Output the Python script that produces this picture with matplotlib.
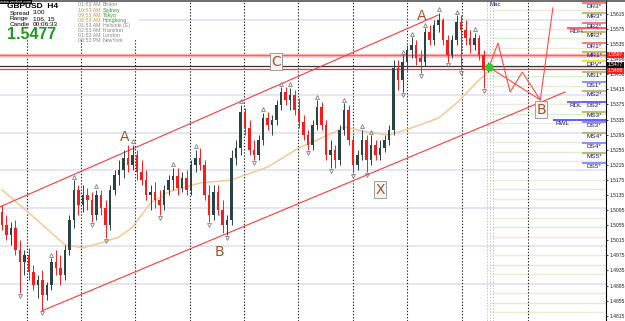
import numpy as np
import matplotlib.pyplot as plt
from matplotlib.patches import Rectangle

plt.rcParams['font.family'] = ['Liberation Sans', 'DejaVu Sans']

# GBPUSD H4 candles (bar index = position)
opens = [1.5090, 1.5056, 1.5029, 1.5048, 1.4990, 1.4958, 1.4976, 1.4931, 1.4897, 1.4910,
         1.4870, 1.4897, 1.4958, 1.4942, 1.4923, 1.4990, 1.5069, 1.5149, 1.5109, 1.5135,
         1.5122, 1.5082, 1.5135, 1.5101, 1.5056, 1.5149, 1.5188, 1.5202, 1.5233, 1.5215,
         1.5241, 1.5196, 1.5175, 1.5135, 1.5143, 1.5122, 1.5109, 1.5149, 1.5175, 1.5186,
         1.5154, 1.5180, 1.5149, 1.5215, 1.5233, 1.5215, 1.5135, 1.5082, 1.5143, 1.5096,
         1.5056, 1.5069, 1.5233, 1.5260, 1.5355, 1.5313, 1.5255, 1.5241, 1.5281, 1.5339,
         1.5321, 1.5334, 1.5374, 1.5408, 1.5387, 1.5400, 1.5361, 1.5329, 1.5294, 1.5268,
         1.5321, 1.5368, 1.5321, 1.5241, 1.5255, 1.5228, 1.5308, 1.5361, 1.5281, 1.5215,
         1.5241, 1.5281, 1.5228, 1.5268, 1.5241, 1.5260, 1.5281, 1.5308, 1.5472, 1.5440,
         1.5488, 1.5520, 1.5533, 1.5498, 1.5488, 1.5567, 1.5546, 1.5586, 1.5599, 1.5546,
         1.5506, 1.5546, 1.5594, 1.5573, 1.5551, 1.5533, 1.5551, 1.5506, 1.5467]
highs = [1.5109, 1.5082, 1.5064, 1.5069, 1.5016, 1.4990, 1.4995, 1.4950, 1.4923, 1.4937,
         1.4905, 1.4968, 1.4990, 1.4976, 1.5003, 1.5082, 1.5175, 1.5162, 1.5162, 1.5154,
         1.5143, 1.5149, 1.5149, 1.5122, 1.5162, 1.5202, 1.5228, 1.5255, 1.5268, 1.5268,
         1.5255, 1.5228, 1.5202, 1.5162, 1.5170, 1.5149, 1.5162, 1.5188, 1.5207, 1.5207,
         1.5196, 1.5202, 1.5228, 1.5255, 1.5260, 1.5228, 1.5162, 1.5162, 1.5162, 1.5122,
         1.5082, 1.5255, 1.5281, 1.5374, 1.5366, 1.5334, 1.5281, 1.5294, 1.5353, 1.5355,
         1.5347, 1.5387, 1.5421, 1.5421, 1.5419, 1.5414, 1.5392, 1.5347, 1.5308, 1.5334,
         1.5387, 1.5382, 1.5334, 1.5281, 1.5268, 1.5321, 1.5379, 1.5374, 1.5294, 1.5255,
         1.5308, 1.5294, 1.5294, 1.5281, 1.5281, 1.5294, 1.5321, 1.5493, 1.5493, 1.5506,
         1.5533, 1.5554, 1.5546, 1.5520, 1.5578, 1.5586, 1.5599, 1.5618, 1.5604, 1.5559,
         1.5559, 1.5612, 1.5612, 1.5599, 1.5573, 1.5565, 1.5559, 1.5520, 1.5488]
lows = [1.5043, 1.5016, 1.5003, 1.4976, 1.4876, 1.4923, 1.4910, 1.4884, 1.4862, 1.4831,
        1.4857, 1.4884, 1.4923, 1.4897, 1.4910, 1.4976, 1.5048, 1.5082, 1.5090, 1.5096,
        1.5064, 1.5069, 1.5082, 1.5021, 1.5043, 1.5135, 1.5162, 1.5180, 1.5196, 1.5202,
        1.5175, 1.5162, 1.5122, 1.5096, 1.5101, 1.5082, 1.5096, 1.5135, 1.5149, 1.5135,
        1.5143, 1.5135, 1.5135, 1.5196, 1.5202, 1.5122, 1.5064, 1.5069, 1.5082, 1.5035,
        1.5029, 1.5056, 1.5215, 1.5241, 1.5294, 1.5241, 1.5228, 1.5228, 1.5268, 1.5308,
        1.5294, 1.5321, 1.5361, 1.5374, 1.5361, 1.5347, 1.5313, 1.5281, 1.5255, 1.5255,
        1.5308, 1.5308, 1.5228, 1.5207, 1.5207, 1.5215, 1.5294, 1.5268, 1.5194, 1.5202,
        1.5228, 1.5196, 1.5215, 1.5228, 1.5228, 1.5249, 1.5268, 1.5294, 1.5414, 1.5408,
        1.5467, 1.5498, 1.5480, 1.5459, 1.5477, 1.5533, 1.5533, 1.5567, 1.5533, 1.5488,
        1.5498, 1.5533, 1.5467, 1.5533, 1.5512, 1.5520, 1.5493, 1.5419, 1.5461]
closes = [1.5056, 1.5029, 1.5048, 1.4990, 1.4958, 1.4976, 1.4931, 1.4897, 1.4910, 1.4870,
          1.4897, 1.4958, 1.4942, 1.4923, 1.4990, 1.5069, 1.5149, 1.5109, 1.5135, 1.5122,
          1.5082, 1.5135, 1.5101, 1.5056, 1.5149, 1.5188, 1.5202, 1.5233, 1.5215, 1.5241,
          1.5196, 1.5175, 1.5135, 1.5143, 1.5122, 1.5109, 1.5149, 1.5175, 1.5186, 1.5154,
          1.5180, 1.5149, 1.5215, 1.5233, 1.5215, 1.5135, 1.5082, 1.5143, 1.5096, 1.5056,
          1.5069, 1.5233, 1.5260, 1.5355, 1.5313, 1.5255, 1.5241, 1.5281, 1.5339, 1.5321,
          1.5334, 1.5374, 1.5408, 1.5387, 1.5400, 1.5361, 1.5329, 1.5294, 1.5268, 1.5321,
          1.5368, 1.5321, 1.5241, 1.5255, 1.5228, 1.5308, 1.5361, 1.5281, 1.5215, 1.5241,
          1.5281, 1.5228, 1.5268, 1.5241, 1.5260, 1.5281, 1.5308, 1.5472, 1.5440, 1.5488,
          1.5520, 1.5533, 1.5498, 1.5488, 1.5567, 1.5546, 1.5586, 1.5599, 1.5546, 1.5506,
          1.5546, 1.5594, 1.5573, 1.5551, 1.5533, 1.5551, 1.5506, 1.5467, 1.5477]

fractal_up = [11, 16, 21, 29, 38, 43, 53, 58, 62, 64, 70, 76, 80, 82, 89, 91, 94, 97, 101, 105]
fractal_down = [4, 9, 20, 23, 35, 46, 50, 56, 68, 73, 78, 81, 89, 93, 99, 102, 107]

# moving average (read at a few bars)
ma_bars = [0, 7, 14, 18, 22, 26, 29, 33, 37, 44, 51, 59, 66, 74, 76, 81, 86, 91, 97, 101, 106, 108]
ma_values = [1.5149, 1.5077, 1.5003, 1.4995, 1.5008, 1.5024, 1.5050, 1.5114, 1.5143, 1.5167,
             1.5175, 1.5209, 1.5260, 1.5302, 1.5316, 1.5302, 1.5294, 1.5313, 1.5339, 1.5379,
             1.5440, 1.5461]

# drawn channel and projection
upper_channel_bars = [-0.4, 96.9]
upper_channel_prices = [1.5104, 1.5612]
lower_channel_bars = [8.9, 125.1]
lower_channel_prices = [1.4828, 1.5408]
zigzag_bars = [108.2, 110.2, 112.9, 115.6, 119.6, 122.4]
zigzag_prices = [1.5474, 1.5538, 1.5408, 1.5461, 1.5387, 1.5631]

wave_labels = ['A', 'B', 'C', 'A', 'X', 'B']
wave_bars = [27.3, 48.4, 60.9, 93.3, 84.0, 119.8]
wave_prices = [1.5289, 1.4984, 1.5488, 1.5610, 1.5149, 1.5361]
wave_boxed = [False, False, True, False, True, True]

pivot_names = ['DR3*', 'MR3*', 'DR2*', 'MR2*', 'DR1*', 'MR1*', 'DPV*', 'MS1*', 'DS1*', 'MS2*',
               'DS2*', 'MS3*', 'DS3*', 'MS4*', 'DS4*', 'MS5*', 'DS5*']
pivot_levels = [1.5644, 1.5618, 1.5591, 1.5567, 1.5538, 1.5514, 1.5490, 1.5461, 1.5435, 1.5411,
                1.5382, 1.5355, 1.5329, 1.5300, 1.5273, 1.5247, 1.5220]
range_names = ['RDH', 'RDL', 'RWL']
range_levels = [1.5578, 1.5382, 1.5334]

price_ticks = [1.5615, 1.5575, 1.5535, 1.5496, 1.5456, 1.5415, 1.5375, 1.5335, 1.5295, 1.5255,
               1.5215, 1.5175, 1.5135, 1.5095, 1.5055, 1.5015, 1.4975, 1.4935, 1.4895, 1.4855, 1.4815]
separators = [5.6, 17.6, 29.6, 41.8, 53.8, 65.8, 78.0, 90.0, 102.2, 116.9]

level_1507 = 1.5507
bid = 1.5477
level_1469 = 1.5469

sessions = [('01:53 AM', 'Broker'), ('10:53 AM', 'Sydney'), ('09:53 AM', 'Tokyo'),
            ('08:53 AM', 'Hongkong'), ('01:53 AM', 'Helsinki (E)'), ('02:53 AM', 'Frankfurt'),
            ('01:53 AM', 'London'), ('08:53 PM', 'NewYork')]
open_sessions = ['Sydney', 'Tokyo', 'Hongkong']

W, H = 625, 321
fig = plt.figure(figsize=(W / 100, H / 100), dpi=100)
ax = fig.add_axes([0, 0, 606 / W, 1])
ax.set_xlim(-0.44, 134.2)
ax.set_ylim(1.4801, 1.5652)

o = np.array(opens); h = np.array(highs); l = np.array(lows); c = np.array(closes)
idx = np.arange(len(c))
up = c >= o
bull, bear = '#2a4444', '#ff1a1a'
cols = np.where(up, bull, bear)

# grid-ish levels
for lev in np.arange(1.49, 1.565, 0.01):
    ax.axhline(lev, color='#e0e0f4', lw=1.2, zorder=0)
for lev in np.arange(1.4825, 1.565, 0.005):
    ax.hlines(lev, 108.7, 134.2, color='#f1e8d8', lw=1, zorder=0)
for lev in np.arange(1.485, 1.565, 0.01):
    ax.hlines(lev, 108.7, 134.2, color='#d8f2d0', lw=1, zorder=0)

for s in separators:
    ax.axvline(s, color='#222222', lw=0.8, ls=(0, (1.2, 1.6)), zorder=1)
for s in [107.8, 108.4, 109.0]:
    ax.axvline(s, color='#c8c8c8', lw=0.7, ls=(0, (1.5, 1.5)), zorder=1)

# horizontal levels across the chart
ax.axhline(level_1507, color='#ffb0b0', lw=2.5, zorder=1)
ax.axhline(level_1507, color='#ff5050', lw=0.6, zorder=1)
ax.axhline(bid, color='#333333', lw=0.9, zorder=1)
ax.axhline(level_1469, color='#ff3030', lw=0.9, zorder=1)

# MA
ax.plot(ma_bars, ma_values, color='#f7c98f', lw=1.1, zorder=2)

# candles
ax.vlines(idx, l, h, colors=cols, lw=0.7, zorder=3)
ax.bar(idx, np.maximum(np.abs(c - o), 0.00015), bottom=np.minimum(o, c), width=0.62,
       color=cols, zorder=3)

# fractals
ax.plot(fractal_up, h[fractal_up] + 0.0009, ls='none', marker='^', ms=2.8, mfc='none',
        mec='#808080', mew=0.6, zorder=3)
ax.plot(fractal_down, l[fractal_down] - 0.0009, ls='none', marker='v', ms=2.8, mfc='none',
        mec='#808080', mew=0.6, zorder=3)

# channel + projection
ax.plot(upper_channel_bars, upper_channel_prices, color='#ff3a3a', lw=0.8, zorder=2)
ax.plot(lower_channel_bars, lower_channel_prices, color='#ff3a3a', lw=0.8, zorder=2)
ax.plot(zigzag_bars, zigzag_prices, color='#ff4a4a', lw=0.8, zorder=4)
ax.plot([zigzag_bars[0], zigzag_bars[4]], [zigzag_prices[0], zigzag_prices[4]],
        color='#ff4a4a', lw=0.8, zorder=4)
ax.plot(zigzag_bars[0], zigzag_prices[0], 'o', ms=5, color='#2ecc2e', zorder=5)

for t, x, y, boxed in zip(wave_labels, wave_bars, wave_prices, wave_boxed):
    bb = dict(boxstyle='square,pad=0.1', fc='#f4f4f4', ec='#909090', lw=0.6) if boxed else None
    ax.text(x, y, t, color='#a0522d', fontsize=10, ha='center', va='center', bbox=bb, zorder=6,
            family='DejaVu Sans')

# pivot levels on the right
def level_color(name):
    if name.startswith('DR'):
        return '#ff6060'
    if name.startswith('DS'):
        return '#7b7bff'
    if name.startswith('DPV'):
        return '#e6e600'
    return '#b5ad5a'

for name, lev in zip(pivot_names, pivot_levels):
    col = level_color(name)
    ax.hlines(lev, 128.9, 134.2, color=col, lw=1.2, zorder=4)
    ax.text(131.6, lev - 0.0003, name, color='#1a1a6e', fontsize=4.6, ha='center', va='top',
            zorder=5)
range_starts = [125.6, 125.6, 122.4]
range_cols = ['#ff5050', '#6060ff', '#5050ff']
for name, lev, x0, col in zip(range_names, range_levels, range_starts, range_cols):
    ax.hlines(lev, x0, 134.2, color=col, lw=1.3, zorder=4)
    ax.text(x0 + 0.6, lev - 0.0003, name, color='#1a1a6e', fontsize=4.6, ha='left', va='top',
            zorder=5)

# price scale
ax.yaxis.tick_right()
ax.set_yticks(price_ticks)
ax.set_yticklabels([f'{p:.4f}' for p in price_ticks])
ax.tick_params(axis='y', labelsize=3.6, length=1.5, width=0.6, pad=0.8, colors='#222222')
ax.set_xticks([])
for side in ['left', 'bottom', 'top']:
    ax.spines[side].set_visible(False)
ax.spines['right'].set_linewidth(0.8)

yt = ax.get_yaxis_transform()
for lev, fc, dy in [(level_1507, '#ff1a1a', 0.0), (bid, '#111111', 0.0004),
                    (level_1469, '#ff1a1a', -0.0004)]:
    ax.text(1.003, lev + dy, f'{lev:.4f}', transform=yt, fontsize=3.6, color='white',
            va='center', ha='left', bbox=dict(boxstyle='square,pad=0.1', fc=fc, ec='none'),
            clip_on=False, zorder=7)

# info panel
ax.add_patch(Rectangle((0, 1 - 40 / H), 139 / 606, 40 / H, transform=ax.transAxes,
                       fc='white', ec='none', zorder=5))
fig.add_artist(plt.Line2D([0, 1], [1 - 0.5 / H, 1 - 0.5 / H], color='#555555', lw=1.2))

def px(x, y):
    return x / W, 1 - y / H

fig.text(*px(7, 6.5), 'GBPUSD  H4', fontsize=6, fontweight='bold', va='center', zorder=8)
fig.text(*px(0.5, 1.8), 'www.zeolart.com', fontsize=3, color='white', va='center', zorder=9,
         bbox=dict(boxstyle='square,pad=0.05', fc='black', ec='none'))
for j, (k, v) in enumerate([('Spread', '3.00'), ('Range', '106, 15'), ('Candle', '00:06:33')]):
    fig.text(*px(10, 13 + 5.8 * j), k, fontsize=4.6, va='center')
    fig.text(*px(33, 13 + 5.8 * j), v, fontsize=4.6, va='center')
fig.text(*px(7, 34.5), '1.5477', fontsize=11.5, fontweight='bold', color='#1e9a1e', va='center')
for j, (t, name) in enumerate(sessions):
    is_open = name in open_sessions
    fig.text(*px(78, 5 + 5.1 * j), t, fontsize=3.8, va='center',
             color='#c8985a' if is_open else '#8a8a8a')
    fig.text(*px(103, 5 + 5.1 * j), name, fontsize=3.8, va='center',
             color='#2aa02a' if is_open else '#8a8a8a')
fig.text(*px(489, 5), 'Mac', fontsize=4.4, color='#1a1a6e', va='center')

fig.savefig('out.png', dpi=100)
